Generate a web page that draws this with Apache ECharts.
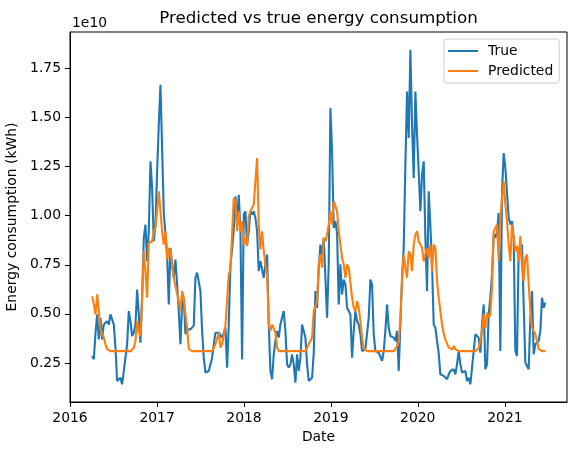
<!DOCTYPE html>
<html>
<head>
<meta charset="utf-8">
<script src="https://cdn.jsdelivr.net/npm/echarts@6/dist/echarts.min.js"></script>
<style>
html,body{margin:0;padding:0;background:#fff;}
#chart{width:576px;height:455px;}
</style>
</head>
<body>
<div id="chart"></div>
<script>
// Weekly series, values in units of 1e10 kWh
const startDate = [2016, 3, 3]; // first week (year, monthIndex, day)
const yearTicks = [2016, 2017, 2018, 2019, 2020, 2021];
const yTicks = [0.25, 0.5, 0.75, 1.0, 1.25, 1.5, 1.75];
const seriesNames = ['True', 'Predicted'];

const trueValues = [
  0.285,0.268,0.40,0.497,0.370,0.480,0.370,0.446,0.455,0.463,
  0.446,0.497,0.489,0.446,0.328,0.158,0.150,0.175,0.141,0.209,
  0.201,0.345,0.514,0.463,0.387,0.404,0.446,0.624,0.497,0.353,
  0.582,0.887,0.955,0.768,0.921,1.277,1.141,0.870,0.955,1.226,
  1.463,1.667,1.345,1.014,1.006,0.802,0.548,0.836,0.752,0.684,
  0.777,0.650,0.514,0.345,0.548,0.582,0.396,0.421,0.429,0.421,
  0.420,0.440,0.684,0.710,0.700,0.616,0.413,0.277,0.201,0.201,
  0.209,0.209,0.277,0.345,0.404,0.413,0.404,0.396,0.379,0.404,
  0.429,0.226,0.446,0.752,0.828,0.930,1.099,0.955,1.107,0.921,
  0.268,1.006,1.023,0.853,0.921,1.023,1.006,1.023,0.989,0.921,
  0.718,0.768,0.768,0.684,0.752,0.802,0.446,0.209,0.167,0.294,
  0.362,0.413,0.379,0.446,0.446,0.514,0.413,0.243,0.226,0.243,
  0.294,0.243,0.150,0.294,0.209,0.277,0.446,0.413,0.379,0.243,
  0.158,0.167,0.175,0.300,0.616,0.531,0.735,0.853,0.802,0.887,
  0.896,0.480,0.752,1.548,1.328,0.938,0.972,0.913,0.548,0.752,
  0.599,0.675,0.650,0.531,0.540,0.497,0.277,0.413,0.514,0.463,
  0.446,0.396,0.311,0.311,0.320,0.320,0.480,0.675,0.650,0.396,
  0.311,0.311,0.302,0.294,0.260,0.311,0.413,0.548,0.429,0.387,
  0.387,0.379,0.362,0.413,0.209,0.201,0.684,0.836,1.260,1.633,
  1.396,1.845,1.463,1.192,1.633,1.413,1.226,1.023,1.209,1.277,
  0.887,0.616,1.124,0.950,0.750,0.446,0.430,0.362,0.300,0.192,
  0.192,0.184,0.175,0.167,0.192,0.209,0.218,0.218,0.192,0.243,
  0.311,0.243,0.201,0.192,0.209,0.158,0.175,0.141,0.226,0.311,
  0.396,0.396,0.379,0.302,0.446,0.548,0.218,0.243,0.497,0.582,
  0.701,0.904,0.887,0.921,1.014,0.311,1.124,1.319,1.243,1.243,
  0.989,0.955,0.972,0.887,0.311,0.285,0.836,0.819,0.853,0.548,
  0.252,0.252,0.218,0.480,0.616,0.294,0.345,0.336,0.362,0.413,
  0.582,0.531,0.557
];

const predictedValues = [
  0.590,0.548,0.497,0.599,0.514,0.421,0.421,0.380,0.345,0.320,
  0.311,0.310,0.310,0.310,0.310,0.310,0.310,0.310,0.310,0.310,
  0.310,0.310,0.310,0.310,0.310,0.328,0.360,0.463,0.410,0.387,
  0.582,0.820,0.718,0.582,0.862,0.870,0.870,0.921,0.938,1.023,
  1.124,1.116,0.921,0.853,0.921,0.777,0.836,0.819,0.752,0.684,
  0.641,0.633,0.565,0.514,0.616,0.582,0.497,0.429,0.320,0.310,
  0.310,0.310,0.310,0.310,0.310,0.310,0.310,0.310,0.310,0.310,
  0.310,0.310,0.310,0.310,0.345,0.353,0.404,0.328,0.345,0.353,
  0.438,0.446,0.701,0.726,0.735,1.090,1.073,0.921,1.023,0.921,
  0.972,0.853,0.887,0.845,0.997,1.023,1.031,1.057,1.060,1.294,
  0.955,0.828,0.921,0.819,0.752,0.701,0.446,0.413,0.446,0.446,
  0.404,0.328,0.310,0.310,0.310,0.310,0.310,0.310,0.310,0.310,
  0.310,0.310,0.310,0.310,0.310,0.310,0.310,0.310,0.310,0.328,
  0.345,0.345,0.380,0.514,0.514,0.565,0.752,0.802,0.735,0.887,
  0.870,0.904,0.955,1.023,0.955,1.073,1.082,1.023,0.921,0.913,
  0.785,0.752,0.684,0.752,0.735,0.735,0.582,0.531,0.514,0.565,
  0.531,0.463,0.379,0.320,0.310,0.310,0.310,0.310,0.310,0.310,
  0.310,0.310,0.310,0.310,0.310,0.310,0.310,0.310,0.310,0.310,
  0.310,0.310,0.320,0.336,0.353,0.480,0.667,0.802,0.735,0.684,
  0.819,0.802,0.718,0.853,0.904,0.921,0.870,0.853,0.836,0.768,
  0.802,0.836,0.785,0.853,0.718,0.853,0.836,0.667,0.582,0.514,
  0.446,0.400,0.370,0.370,0.328,0.328,0.320,0.336,0.320,0.311,
  0.310,0.310,0.310,0.310,0.310,0.310,0.310,0.310,0.310,0.310,
  0.310,0.315,0.328,0.362,0.413,0.497,0.429,0.506,0.480,0.497,
  0.633,0.921,0.938,0.955,0.768,0.989,1.090,1.175,1.057,0.972,
  0.853,0.768,0.955,0.887,0.819,0.845,0.768,0.896,0.735,0.667,
  0.785,0.802,0.650,0.514,0.429,0.413,0.396,0.362,0.320,0.310,
  0.310,0.310,0.310
];

function weekDate(i) {
  return new Date(startDate[0], startDate[1], startDate[2] + 7 * i).getTime();
}
const trueData = trueValues.map((v, i) => [weekDate(i), v]);
const predData = predictedValues.map((v, i) => [weekDate(i), v]);
const xTickValues = yearTicks.map(y => new Date(y, 0, 1).getTime());

const FONT = 'DejaVu Sans';
const chart = echarts.init(document.getElementById('chart'), null, {renderer: 'canvas'});
chart.setOption({
  animation: false,
  backgroundColor: '#ffffff',
  grid: {
    left: 70, right: 9, top: 32, bottom: 53,
    containLabel: false, outerBoundsMode: 'none',
    show: true, borderColor: '#000', borderWidth: 1, backgroundColor: 'transparent'
  },
  graphic: [
    {type: 'text', x: 318.5, y: 18.5,
     style: {text: 'Predicted vs true energy consumption', font: '16.7px "DejaVu Sans"', fill: '#000', align: 'center', verticalAlign: 'middle'}},
    {type: 'text', x: 72, y: 23.5,
     style: {text: '1e10', font: '13.9px "DejaVu Sans"', fill: '#000', align: 'left', verticalAlign: 'middle'}}
  ],
  legend: {
    data: seriesNames,
    orient: 'vertical',
    left: 444, top: 39,
    icon: 'rect',
    itemWidth: 30, itemHeight: 2,
    itemGap: 6,
    padding: [5, 6, 5, 4],
    backgroundColor: 'rgba(255,255,255,0.8)',
    borderColor: '#cccccc', borderWidth: 1, borderRadius: 3,
    textStyle: {fontFamily: FONT, fontSize: 13.9, color: '#000', padding: [0, 0, 0, 5]}
  },
  xAxis: {
    type: 'value',
    min: new Date(2016, 0, 1).getTime(),
    max: new Date(2021, 8, 19).getTime(),
    name: 'Date', nameLocation: 'middle', nameGap: 28,
    nameTextStyle: {fontFamily: FONT, fontSize: 13.9, color: '#000'},
    axisLine: {show: true, onZero: false, lineStyle: {color: '#000', width: 1}},
    axisTick: {show: true, inside: false, length: 5, lineStyle: {color: '#000', width: 1}, customValues: xTickValues},
    axisLabel: {fontFamily: FONT, fontSize: 13.9, color: '#000', margin: 9, customValues: xTickValues,
      formatter: v => String(new Date(v).getFullYear())},
    splitLine: {show: false}
  },
  yAxis: {
    type: 'value',
    min: 0.051, max: 1.936,
    name: 'Energy consumption (kWh)', nameLocation: 'middle', nameGap: 46,
    nameTextStyle: {fontFamily: FONT, fontSize: 13.9, color: '#000'},
    axisLine: {show: true, onZero: false, lineStyle: {color: '#000', width: 1}},
    axisTick: {show: true, inside: false, length: 5, lineStyle: {color: '#000', width: 1}, customValues: yTicks},
    axisLabel: {fontFamily: FONT, fontSize: 13.9, color: '#000', margin: 9, customValues: yTicks,
      formatter: v => v.toFixed(2)},
    splitLine: {show: false}
  },
  series: [
    {name: seriesNames[0], type: 'line', data: trueData, showSymbol: false, symbol: 'none',
     lineStyle: {color: '#1f77b4', width: 2.1}, itemStyle: {color: '#1f77b4'}, z: 2},
    {name: seriesNames[1], type: 'line', data: predData, showSymbol: false, symbol: 'none',
     lineStyle: {color: '#ff7f0e', width: 2.1}, itemStyle: {color: '#ff7f0e'}, z: 3}
  ]
});
</script>
</body>
</html>
